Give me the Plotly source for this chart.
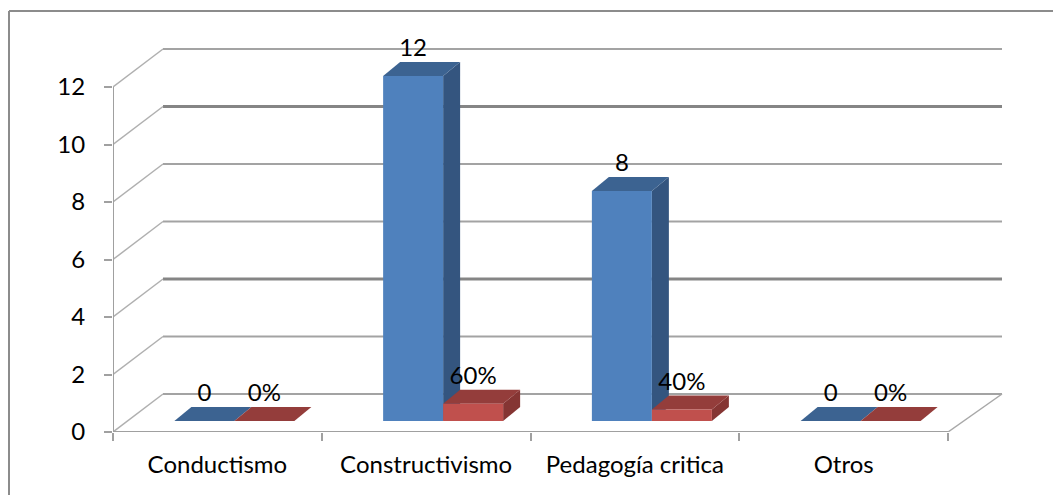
import plotly.graph_objects as go

# ---- data ----
categories = ["Conductismo", "Constructivismo", "Pedagogía critica", "Otros"]
frecuencia = [0, 12, 8, 0]
porcentaje = [0.0, 0.6, 0.4, 0.0]
y_ticks = [0, 2, 4, 6, 8, 10, 12]

# ---- geometry (axis units) ----
PX_X = 208.75          # px per category unit
PX_Y = 28.75           # px per value unit
L, R, T, B = 113, 43, 30, 63
W, H = 1053, 495
pw, ph = W - L - R, H - T - B
xr = [0, pw / PX_X]
yr = [0, ph / PX_Y]

back_dx, back_dy = 50 / PX_X, 38 / PX_Y      # back wall offset
plane_dx, plane_dy = 17 / PX_X, 11 / PX_Y    # bar plane offset
bw = 60 / PX_X                                # bar width
d_dx, d_dy = 17 / PX_X, 14 / PX_Y             # bar depth

blue_front, blue_top, blue_side = "#4F81BD", "#3C6391", "#34557F"
red_front, red_top, red_side = "#C0504D", "#943D3B", "#853533"

centers = [i + 0.5 for i in range(len(categories))]

shapes = []
grid_col = "#A3A3A3"
# back wall gridlines + left wall diagonals
for v in y_ticks:
    dark = v in (4, 10)
    shapes.append(dict(type="line", xref="x", yref="y", layer="below",
                       x0=back_dx, x1=len(categories) + 54 / PX_X,
                       y0=v + back_dy, y1=v + back_dy,
                       line=dict(color="#858585" if dark else grid_col, width=3 if dark else 2)))
    shapes.append(dict(type="line", xref="x", yref="y", layer="below",
                       x0=0, x1=back_dx, y0=v, y1=v + back_dy,
                       line=dict(color="#B0B0B0", width=1.5)))
# floor front edge and right diagonal
n = len(categories)
shapes.append(dict(type="line", xref="x", yref="y", layer="below",
                   x0=0, x1=n, y0=0, y1=0, line=dict(color="#A0A0A0", width=2)))
shapes.append(dict(type="line", xref="x", yref="y", layer="below",
                   x0=n, x1=n + 54 / PX_X, y0=0, y1=back_dy,
                   line=dict(color="#A8A8A8", width=1.5)))
# front y axis line
shapes.append(dict(type="line", xref="x", yref="y", layer="below",
                   x0=0, x1=0, y0=0, y1=max(y_ticks), line=dict(color="#A0A0A0", width=2)))


def faces(xl, val, top_col, side_col):
    base = plane_dy
    t = base + val
    xrgt = xl + bw
    out = []
    if val > 0:
        out.append(dict(type="path", xref="x", yref="y", layer="below",
                        path=f"M {xrgt},{base} L {xrgt},{t} L {xrgt + d_dx},{t + d_dy} L {xrgt + d_dx},{base + d_dy} Z",
                        fillcolor=side_col, line=dict(width=0)))
    out.append(dict(type="path", xref="x", yref="y", layer="below",
                    path=f"M {xl},{t} L {xrgt},{t} L {xrgt + d_dx},{t + d_dy} L {xl + d_dx},{t + d_dy} Z",
                    fillcolor=top_col, line=dict(width=0)))
    return out


blue_off = plane_dx - bw
red_off = plane_dx
for c, fv, pv in zip(centers, frecuencia, porcentaje):
    shapes += faces(c + blue_off, fv, blue_top, blue_side)
    shapes += faces(c + red_off, pv, red_top, red_side)

# outer frame (paper)
fx0 = (9 - L) / pw
fy1 = (H - B - 11) / ph
shapes.append(dict(type="line", xref="paper", yref="paper", x0=fx0, x1=(W - L) / pw,
                    y0=fy1, y1=fy1, line=dict(color="#8C8C8C", width=2)))
shapes.append(dict(type="line", xref="paper", yref="paper", x0=fx0, x1=fx0,
                    y0=fy1, y1=-(B) / ph, line=dict(color="#8C8C8C", width=2)))

fig = go.Figure()
fig.add_trace(go.Bar(x=centers, y=frecuencia, base=[plane_dy] * n, offset=blue_off, width=bw,
                     marker=dict(color=blue_front, line=dict(width=0)), name="Frecuencia",
                     showlegend=False))
fig.add_trace(go.Bar(x=centers, y=porcentaje, base=[plane_dy] * n, offset=red_off, width=bw,
                     marker=dict(color=red_front, line=dict(width=0)), name="Porcentaje",
                     showlegend=False))

font = "Lato, 'Open Sans', sans-serif"
FS = 24
fig.add_trace(go.Scatter(
    x=[c + blue_off + bw / 2 for c in centers],
    y=[plane_dy + v + d_dy for v in frecuencia],
    text=[str(v) for v in frecuencia], mode="text", textposition="top center",
    textfont=dict(family=font, size=FS, color="black"), cliponaxis=False, showlegend=False))
fig.add_trace(go.Scatter(
    x=[c + red_off + bw / 2 for c in centers],
    y=[plane_dy + v + d_dy for v in porcentaje],
    text=[f"{round(v * 100)}%" for v in porcentaje], mode="text", textposition="top center",
    textfont=dict(family=font, size=FS, color="black"), cliponaxis=False, showlegend=False))

fig.update_layout(
    width=W, height=H, margin=dict(l=L, r=R, t=T, b=B),
    paper_bgcolor="white", plot_bgcolor="rgba(0,0,0,0)",
    shapes=shapes, showlegend=False, barmode="overlay",
    font=dict(family=font, size=FS, color="black"),
    xaxis=dict(range=xr, showgrid=False, zeroline=False, showline=False,
               tickmode="array", tickvals=centers, ticktext=categories, ticks="",
               ticklabelstandoff=16, automargin=False,
               minor=dict(tickmode="array", tickvals=list(range(n + 1)), ticks="outside",
                          ticklen=8, tickwidth=1.5, tickcolor="#A0A0A0", showgrid=False),
               fixedrange=True),
    yaxis=dict(range=yr, showgrid=False, zeroline=False, showline=False,
               tickmode="array", tickvals=y_ticks, ticks="outside", ticklen=8,
               tickwidth=1.5, tickcolor="#A0A0A0", ticklabelstandoff=14, automargin=False,
               fixedrange=True),
)

fig.write_html("out.html", config={"displayModeBar": False},
               post_script="document.body.style.margin='0';")
